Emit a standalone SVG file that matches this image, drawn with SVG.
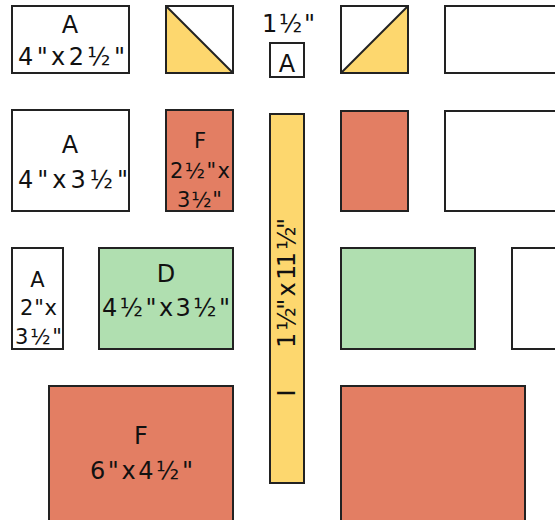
<svg xmlns="http://www.w3.org/2000/svg" width="555" height="520" viewBox="0 0 555 520">
<style>
.p{stroke:#222;stroke-width:2}
.w{fill:#fff}
.y{fill:#FDD76E}
.r{fill:#E37E63}
.g{fill:#B0DFB0}
text{font-family:"DejaVu Sans","Open Sans",sans-serif;fill:#111;text-anchor:middle}
.t24{font-size:24px}
.t21{font-size:21px}
</style>
<rect width="555" height="520" fill="#fff"/>
<g id="a-top">
<rect class="p w" x="12" y="6" width="117" height="67"/>
<text class="t24" x="70" y="33">A</text>
<text class="t24" x="71.5" y="65" textLength="107" lengthAdjust="spacing">4"x2½"</text>
</g>
<g id="hst-left">
<rect class="p w" x="166" y="6" width="67" height="67"/>
<polygon class="y" points="166,6 233,73 166,73"/>
<line class="p" x1="166" y1="6" x2="233" y2="73"/>
<rect class="p" fill="none" x="166" y="6" width="67" height="67"/>
</g>
<g id="a-small">
<text class="t24" x="288.5" y="32" textLength="53" lengthAdjust="spacing">1½"</text>
<rect class="p w" x="270" y="43" width="34" height="34"/>
<text class="t24" x="287" y="72">A</text>
</g>
<g id="hst-right">
<rect class="p w" x="341" y="6" width="67" height="67"/>
<polygon class="y" points="408,6 408,73 341,73"/>
<line class="p" x1="341" y1="73" x2="408" y2="6"/>
<rect class="p" fill="none" x="341" y="6" width="67" height="67"/>
</g>
<g id="a-top-right">
<rect class="p w" x="445" y="6" width="130" height="67"/>
</g>
<g id="a-mid">
<rect class="p w" x="12" y="110" width="117" height="101"/>
<text class="t24" x="70" y="153">A</text>
<text class="t24" x="73" y="188" textLength="110" lengthAdjust="spacing">4"x3½"</text>
</g>
<g id="f-small">
<rect class="p r" x="166" y="110" width="67" height="101"/>
<text class="t21" x="200" y="148">F</text>
<text class="t21" x="200" y="178" textLength="60" lengthAdjust="spacing">2½"x</text>
<text class="t21" x="199.5" y="207" textLength="45" lengthAdjust="spacing">3½"</text>
</g>
<g id="strip">
<rect class="p y" x="270" y="114" width="34" height="369"/>
<text class="t24" transform="translate(295,283) rotate(-90)" textLength="130" lengthAdjust="spacing">1 ½" x 11 ½"</text>
<text class="t24" transform="translate(295,393) rotate(-90)">I</text>
</g>
<g id="f-small-right">
<rect class="p r" x="341" y="111" width="67" height="100"/>
</g>
<g id="a-mid-right">
<rect class="p w" x="445" y="111" width="130" height="100"/>
</g>
<g id="a-narrow">
<rect class="p w" x="12" y="248" width="51" height="101"/>
<text class="t21" x="37.5" y="287">A</text>
<text class="t21" x="38.5" y="315" textLength="37" lengthAdjust="spacing">2"x</text>
<text class="t21" x="38.5" y="344" textLength="47" lengthAdjust="spacing">3½"</text>
</g>
<g id="d-left">
<rect class="p g" x="99" y="248" width="134" height="101"/>
<text class="t24" x="166" y="282">D</text>
<text class="t24" x="166" y="316" textLength="128" lengthAdjust="spacing">4½"x3½"</text>
</g>
<g id="d-right">
<rect class="p g" x="341" y="248" width="134" height="101"/>
</g>
<g id="a-narrow-right">
<rect class="p w" x="512" y="248" width="60" height="101"/>
</g>
<g id="f-big-left">
<rect class="p r" x="49" y="386" width="184" height="150"/>
<text class="t24" x="141" y="444">F</text>
<text class="t24" x="141.5" y="479" textLength="103" lengthAdjust="spacing">6"x4½"</text>
</g>
<g id="f-big-right">
<rect class="p r" x="341" y="386" width="184" height="150"/>
</g>
</svg>
